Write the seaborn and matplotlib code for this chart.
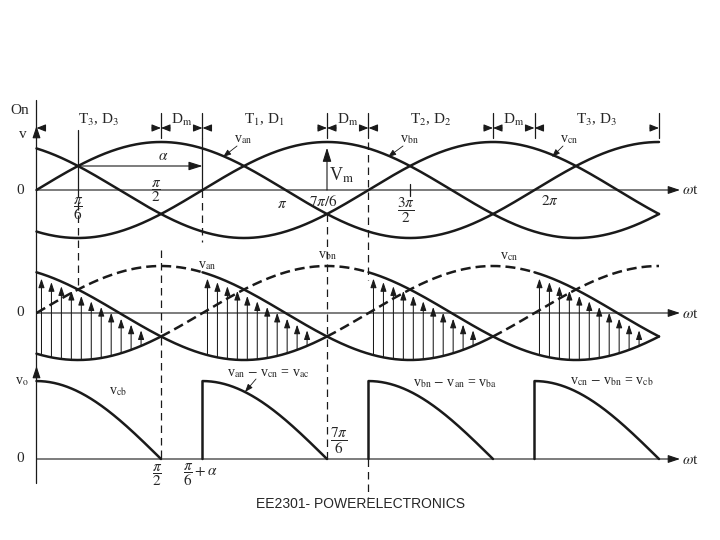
import numpy as np
import seaborn as sns
import matplotlib.pyplot as plt
from matplotlib.lines import Line2D
from matplotlib.transforms import blended_transform_factory

PI = np.pi

# phase voltages, per unit of Vm
phases = ["an", "bn", "cn"]
phase_shift = [0.0, -2 * PI / 3, 2 * PI / 3]
v_peak = 1.0
alpha = PI / 2          # firing delay, measured from pi/6
theta_end = 5 * PI / 2

# device conduction intervals (top strip)
interval_edges = [0, PI / 2, 2 * PI / 3, 7 * PI / 6, 4 * PI / 3, 11 * PI / 6, 2 * PI, 5 * PI / 2]
interval_labels = ["T$_3$, D$_3$", "D$_{\\rm m}$", "T$_1$, D$_1$", "D$_{\\rm m}$",
                   "T$_2$, D$_2$", "D$_{\\rm m}$", "T$_3$, D$_3$"]

# line-voltage pieces seen by the load: start angle, upper phase, lower phase
conduct_start = [0, 2 * PI / 3, 4 * PI / 3, 2 * PI]
conduct_top = ["cn", "an", "bn", "cn"]
conduct_bottom = ["bn", "cn", "an", "bn"]
conduct_len = PI / 2

# parts of each phase drawn solid in the middle panel (rest dashed)
solid_an = [(2 * PI / 3, 11 * PI / 6)]
solid_bn = [(0, PI / 2), (4 * PI / 3, 5 * PI / 2)]
solid_cn = [(0, 7 * PI / 6), (2 * PI, 5 * PI / 2)]
solid_parts = {"an": solid_an, "bn": solid_bn, "cn": solid_cn}


def vph(name, th):
    return v_peak * np.sin(th + phase_shift[phases.index(name)])


sns.set_theme(style="white")
plt.rcParams["font.family"] = ["Liberation Serif", "DejaVu Serif"]
plt.rcParams["mathtext.fontset"] = "stix"

W, H = 720, 540
fig = plt.figure(figsize=(7.2, 5.4), dpi=100)
fig.patch.set_facecolor("white")
XL = (-36.5 / 249 * PI, (W - 36.5) / 249 * PI)
x_tip = (680 - 36.5) / 249 * PI


def panel(ytop, ybot, zero, scale):
    ax = fig.add_axes([0, 1 - ybot / H, 1, (ybot - ytop) / H])
    ax.set_xlim(XL)
    ax.set_ylim(-(ybot - zero) / scale, (zero - ytop) / scale)
    ax.axis("off")
    return ax


ax1 = panel(90, 260, 190, 48)
ax2 = panel(240, 378, 313, 47)
ax3 = panel(355, 505, 459, 45)

vtrans = blended_transform_factory(ax1.transData, fig.transFigure)
LW = 1.8
AX_LW = 0.8


def fy(py):
    return 1 - py / H


def txt(px, py, s, size=11, ha="center", va="center", **kw):
    fig.text(px / W, fy(py), s, ha=ha, va=va, fontsize=size, **kw)


def vline(th, py1, py2, ls="-", lw=0.9):
    fig.add_artist(Line2D([th, th], [fy(py1), fy(py2)], transform=vtrans,
                          color="k", lw=lw, ls=ls))


def arrow(ax, xy, xytext, coords="data", hl=0.6, hw=0.2, lw=AX_LW):
    ax.annotate("", xy=xy, xytext=xytext, xycoords=coords, textcoords=coords,
                arrowprops=dict(arrowstyle=f"-|>,head_length={hl},head_width={hw}",
                                color="k", lw=lw, shrinkA=0, shrinkB=0),
                annotation_clip=False)


def curve(ax, t, v, ls="-"):
    sns.lineplot(x=t, y=v, ax=ax, color="k", lw=LW, linestyle=ls,
                 estimator=None, sort=False)


DASH = (0, (6, 4))

# ---------- top panel: phase voltages ----------
th = np.linspace(0, theta_end, 500)
for p in phases:
    curve(ax1, th, vph(p, th))

# ---------- middle panel ----------
for p in phases:
    parts = solid_parts[p]
    edges = sorted(set([0.0, theta_end] + [e for part in parts for e in part]))
    for a, b in zip(edges[:-1], edges[1:]):
        solid = any(a >= s - 1e-9 and b <= e + 1e-9 for s, e in parts)
        t = np.linspace(a, b, 150)
        curve(ax2, t, vph(p, t), "-" if solid else (0, (4, 2)))

for s, top, bot in zip(conduct_start, conduct_top, conduct_bottom):
    for t in s + PI * (0.02 + 0.04 * np.arange(11)):
        arrow(ax2, (t, vph(top, t) - 0.1), (t, vph(bot, t)), hl=0.45, hw=0.15, lw=0.75)

# ---------- bottom panel: output voltage ----------
for s, top, bot in zip(conduct_start, conduct_top, conduct_bottom):
    t = np.linspace(s, s + conduct_len, 200)
    v = vph(top, t) - vph(bot, t)
    if s > 0:
        t = np.r_[s, t]
        v = np.r_[0.0, v]
    curve(ax3, t, v)

# ---------- axes ----------
vline(0, 100, 483, lw=0.9)
arrow(ax1, (0, fy(126)), (0, fy(138)), coords=vtrans, hl=0.6, hw=0.2)
arrow(ax3, (0, fy(366)), (0, fy(378)), coords=vtrans, hl=0.6, hw=0.2)
for ax, yp in [(ax1, 190), (ax2, 313), (ax3, 459)]:
    arrow(ax, (x_tip, 0), (0, 0))
    txt(690, yp + 1, r"$\omega$t", 11)
    txt(20, yp, "0", 11)

# conduction strip
for e in interval_edges[1:]:
    vline(e, 113, 138)
d = 9 / 249 * PI
for a, b, lab in zip(interval_edges[:-1], interval_edges[1:], interval_labels):
    arrow(ax1, (a, fy(128)), (a + d, fy(128)), coords=vtrans, hl=0.45, hw=0.18)
    arrow(ax1, (b, fy(128)), (b - d, fy(128)), coords=vtrans, hl=0.45, hw=0.18)
    txt(36.5 + (a + b) / 2 / PI * 249, 120, lab, 11)

# reference lines
vline(PI / 6, 130, 190)
vline(PI / 6, 190, 288, DASH)
vline(PI / 2, 250, 459, DASH)
vline(2 * PI / 3, 138, 190)
vline(2 * PI / 3, 190, 242, DASH)
vline(7 * PI / 6, 214, 459, DASH)
vline(4 * PI / 3, 142, 280, DASH)
vline(4 * PI / 3, 459, 497, DASH)
vline(3 * PI / 2, 184, 196)

# alpha and Vm arrows
arrow(ax1, (PI / 6 + alpha, 0.5), (PI / 6, 0.5), hl=0.7, hw=0.22)
arrow(ax1, (7 * PI / 6, 0.88), (7 * PI / 6, 0.0), hl=0.7, hw=0.22)

# ---------- text ----------
txt(20, 111, "On", 11)
txt(23, 134, "v", 11)
txt(78, 209, r"$\dfrac{\pi}{6}$", 11)
txt(156, 191, r"$\dfrac{\pi}{2}$", 11)
txt(282, 204, r"$\pi$", 11)
txt(323, 201, r"$7\pi/6$", 11)
txt(406, 211, r"$\dfrac{3\pi}{2}$", 11)
txt(550, 201, r"$2\pi$", 11)
txt(163, 157, r"$\alpha$", 11)
txt(342, 175, r"V$_{\rm m}$", 13)

for lab, (lx, ly), (ax_, ay_) in [
        (r"v$_{\rm an}$", (243, 140), (223, 157)),
        (r"v$_{\rm bn}$", (409, 140), (388, 157)),
        (r"v$_{\rm cn}$", (569, 140), (552, 157))]:
    txt(lx, ly, lab, 10)
    arrow(ax1, (ax_, H - ay_), (lx - 6, H - ly - 6), coords="figure pixels",
          hl=0.4, hw=0.15, lw=0.6)

txt(207, 265, r"v$_{\rm an}$", 10)
txt(327, 256, r"v$_{\rm bn}$", 10)
txt(509, 257, r"v$_{\rm cn}$", 10)

txt(22, 382, r"v$_{\rm o}$", 10)
txt(118, 391, r"v$_{\rm cb}$", 10)
txt(157, 475, r"$\dfrac{\pi}{2}$", 11)
txt(200, 475, r"$\dfrac{\pi}{6}+\alpha$", 11)
txt(268, 373, r"v$_{\rm an}$ $-$ v$_{\rm cn}$ = v$_{\rm ac}$", 10)
arrow(ax3, (245, H - 392), (256, H - 379), coords="figure pixels", hl=0.4, hw=0.15, lw=0.6)
txt(339, 441, r"$\dfrac{7\pi}{6}$", 11)
txt(455, 383, r"v$_{\rm bn}$ $-$ v$_{\rm an}$ = v$_{\rm ba}$", 10)
txt(612, 382, r"v$_{\rm cn}$ $-$ v$_{\rm bn}$ = v$_{\rm cb}$", 10)

txt(360, 504, "EE2301- POWERELECTRONICS", 10, family=["Liberation Sans", "DejaVu Sans"])

fig.savefig("out.png", dpi=100, facecolor="white")
